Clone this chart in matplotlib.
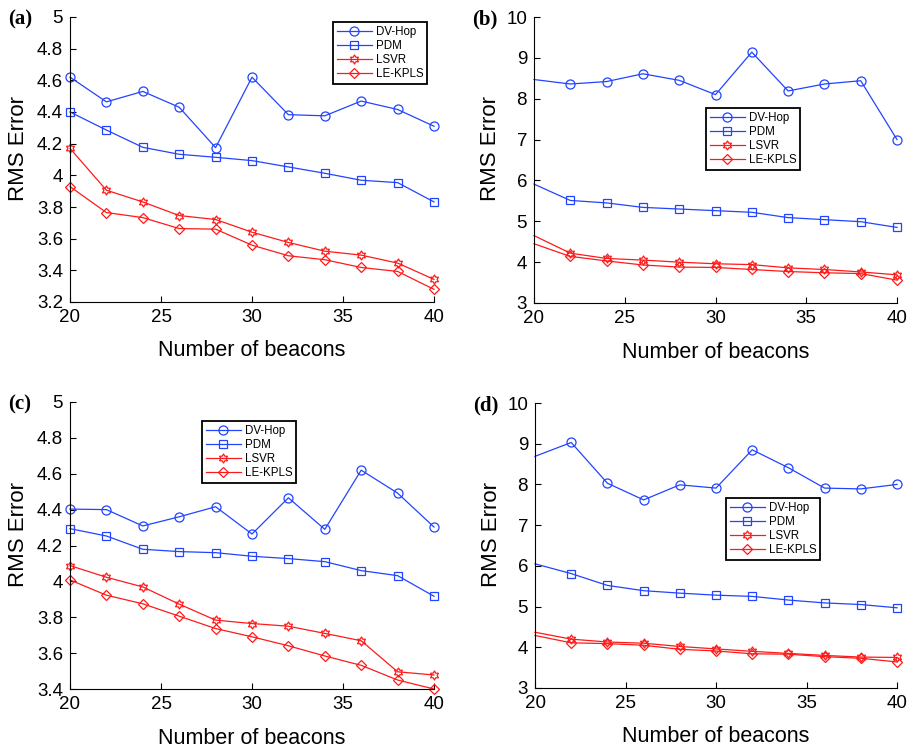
import numpy as np
import matplotlib
matplotlib.use("Agg")
import matplotlib.pyplot as plt
from matplotlib.path import Path

plt.rcParams['font.family'] = ['Liberation Sans', 'DejaVu Sans']

# beacons on the x axis
beacons = [20, 22, 24, 26, 28, 30, 32, 34, 36, 38, 40]
methods = ['DV-Hop', 'PDM', 'LSVR', 'LE-KPLS']

# panel (a)
a_dvhop = [4.62, 4.464, 4.53, 4.43, 4.175, 4.62, 4.383, 4.376, 4.469, 4.416, 4.31]
a_pdm = [4.40, 4.286, 4.177, 4.133, 4.114, 4.093, 4.053, 4.013, 3.969, 3.954, 3.832]
a_lsvr = [4.17, 3.906, 3.832, 3.746, 3.721, 3.641, 3.576, 3.521, 3.496, 3.446, 3.343]
a_lekpls = [3.929, 3.765, 3.733, 3.664, 3.66, 3.559, 3.492, 3.467, 3.418, 3.393, 3.28]

# panel (b)
b_dvhop = [8.47, 8.36, 8.42, 8.61, 8.45, 8.10, 9.14, 8.19, 8.36, 8.44, 7.00]
b_pdm = [5.91, 5.51, 5.45, 5.34, 5.30, 5.26, 5.22, 5.09, 5.04, 4.99, 4.85]
b_lsvr = [4.65, 4.22, 4.09, 4.05, 4.00, 3.96, 3.94, 3.86, 3.82, 3.76, 3.69]
b_lekpls = [4.45, 4.14, 4.03, 3.93, 3.88, 3.87, 3.82, 3.77, 3.74, 3.72, 3.56]

# panel (c)
c_dvhop = [4.403, 4.40, 4.309, 4.36, 4.416, 4.264, 4.466, 4.29, 4.62, 4.492, 4.303]
c_pdm = [4.294, 4.253, 4.179, 4.166, 4.16, 4.14, 4.127, 4.11, 4.06, 4.032, 3.917]
c_lsvr = [4.088, 4.023, 3.969, 3.873, 3.784, 3.765, 3.75, 3.71, 3.669, 3.496, 3.478]
c_lekpls = [4.008, 3.923, 3.875, 3.806, 3.737, 3.691, 3.641, 3.584, 3.532, 3.45, 3.40]

# panel (d)
d_dvhop = [8.69, 9.03, 8.03, 7.62, 7.99, 7.91, 8.85, 8.41, 7.91, 7.89, 8.00]
d_pdm = [6.05, 5.81, 5.52, 5.39, 5.33, 5.28, 5.25, 5.16, 5.09, 5.05, 4.97]
d_lsvr = [4.37, 4.20, 4.13, 4.10, 4.02, 3.96, 3.90, 3.85, 3.80, 3.76, 3.75]
d_lekpls = [4.29, 4.11, 4.09, 4.05, 3.95, 3.91, 3.84, 3.83, 3.77, 3.73, 3.64]

a_yticks = [3.2, 3.4, 3.6, 3.8, 4, 4.2, 4.4, 4.6, 4.8, 5]
b_yticks = [3, 4, 5, 6, 7, 8, 9, 10]
c_yticks = [3.4, 3.6, 3.8, 4, 4.2, 4.4, 4.6, 4.8, 5]
xticks = [20, 25, 30, 35, 40]

# hexagram marker for LSVR
ang = np.pi / 2 + np.arange(12) * np.pi / 6
rad = np.where(np.arange(12) % 2 == 0, 1.0, 0.58)
verts = np.column_stack([rad * np.cos(ang), rad * np.sin(ang)])
verts = np.vstack([verts, verts[:1]])
hexagram = Path(verts, [Path.MOVETO] + [Path.LINETO] * 11 + [Path.CLOSEPOLY])

blue = '#2244ff'
red = '#ff1a1a'
styles = [(blue, 'o', 6.5), (blue, 's', 5.5), (red, hexagram, 6.5), (red, 'D', 5)]

W, H = 914, 747
fig = plt.figure(figsize=(W / 100, H / 100), dpi=100)

panels = [
    ('(a)', [a_dvhop, a_pdm, a_lsvr, a_lekpls], a_yticks, (3.2, 5), (70, 17, 434, 302), (333, 22), slice(0, None), -0.113),
    ('(b)', [b_dvhop, b_pdm, b_lsvr, b_lekpls], b_yticks, (3, 10), (534, 17, 897, 303), (706, 108), slice(1, None), -0.09),
    ('(c)', [c_dvhop, c_pdm, c_lsvr, c_lekpls], c_yticks, (3.4, 5), (70, 402, 434, 689), (202, 421), slice(0, None), -0.113),
    ('(d)', [d_dvhop, d_pdm, d_lsvr, d_lekpls], b_yticks, (3, 10), (535, 403, 897, 688), (726, 498), slice(1, None), -0.09),
]

for label, series, yt, ylim, box, legpos, mev, ylx in panels:
    x0, y0, x1, y1 = box
    ax = fig.add_axes([x0 / W, 1 - y1 / H, (x1 - x0) / W, (y1 - y0) / H])
    for name, vals, (col, mk, ms) in zip(methods, series, styles):
        ax.plot(beacons, vals, color=col, marker=mk, markersize=ms, markerfacecolor='none',
                markeredgecolor=col, markeredgewidth=0.9, linewidth=0.9, label=name,
                markevery=mev, clip_on=False)
    ax.set_xlim(20, 40)
    ax.set_ylim(*ylim)
    ax.set_xticks(xticks)
    ax.set_yticks(yt)
    ax.set_yticklabels(['%g' % v for v in yt])
    ax.spines['top'].set_visible(False)
    ax.spines['right'].set_visible(False)
    ax.tick_params(direction='in', length=4, labelsize=13.5, pad=5)
    ax.set_xlabel('Number of beacons', fontsize=15.5)
    ax.set_ylabel('RMS Error', fontsize=16)
    ax.xaxis.set_label_coords(0.5, -0.135)
    ax.yaxis.set_label_coords(ylx, 0.54)
    leg = ax.legend(loc='upper left', bbox_to_anchor=(legpos[0] / W, 1 - legpos[1] / H),
                    bbox_transform=fig.transFigure, borderaxespad=0, fontsize=8.3,
                    fancybox=False, framealpha=1, edgecolor='black', handlelength=3.0,
                    labelspacing=0.18, borderpad=0.35, handletextpad=0.35)
    leg.get_frame().set_linewidth(1.3)
    fig.text((x0 - 62) / W, 1 - (y0 - 8) / H, label, fontsize=15, fontweight='bold',
             family=['Liberation Serif', 'DejaVu Serif'], va='top', ha='left')

fig.savefig('out.png', dpi=100)
